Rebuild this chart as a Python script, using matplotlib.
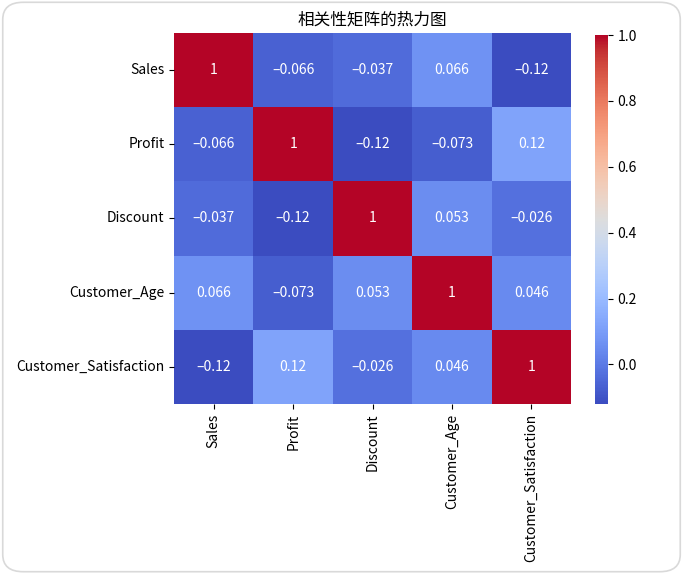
import matplotlib
matplotlib.use("Agg")
import matplotlib.pyplot as plt
import seaborn as sns
import numpy as np
import pandas as pd
from matplotlib.patches import FancyBboxPatch

labels = ["Sales", "Profit", "Discount", "Customer_Age", "Customer_Satisfaction"]
row_sales = [1, -0.066, -0.037, 0.066, -0.12]
row_profit = [-0.066, 1, -0.12, -0.073, 0.12]
row_discount = [-0.037, -0.12, 1, 0.053, -0.026]
row_age = [0.066, -0.073, 0.053, 1, 0.046]
row_satisfaction = [-0.12, 0.12, -0.026, 0.046, 1]
title = "相关性矩阵的热力图"

corr = pd.DataFrame([row_sales, row_profit, row_discount, row_age, row_satisfaction],
                    index=labels, columns=labels)

plt.rcParams['font.family'] = ['Noto Sans CJK SC', 'DejaVu Sans']
plt.rcParams['axes.unicode_minus'] = True

fig = plt.figure(figsize=(6.83, 5.74), dpi=100)
ax = fig.add_axes([0.2548, 0.2962, 0.5813, 0.6463])
cax = fig.add_axes([0.871, 0.2962, 0.019, 0.6428])

sns.heatmap(corr, annot=True, cmap="coolwarm", ax=ax, cbar_ax=cax,
            annot_kws={"fontsize": 10})
for t in ax.texts:
    t.set_text(t.get_text().replace('-', '\u2013'))
ax.set_title(title, fontsize=12)
ax.tick_params(axis='both', labelsize=10)
cax.tick_params(labelsize=10)
plt.setp(ax.get_yticklabels(), rotation=0)
plt.setp(ax.get_xticklabels(), rotation=90)

frame = FancyBboxPatch((0.004, 0.004), 0.992, 0.992, boxstyle="round,pad=0,rounding_size=0.03",
                       transform=fig.transFigure, facecolor='none', edgecolor='#d9d9d9',
                       linewidth=1.2)
fig.patches.append(frame)

fig.savefig("out.png", dpi=100)
